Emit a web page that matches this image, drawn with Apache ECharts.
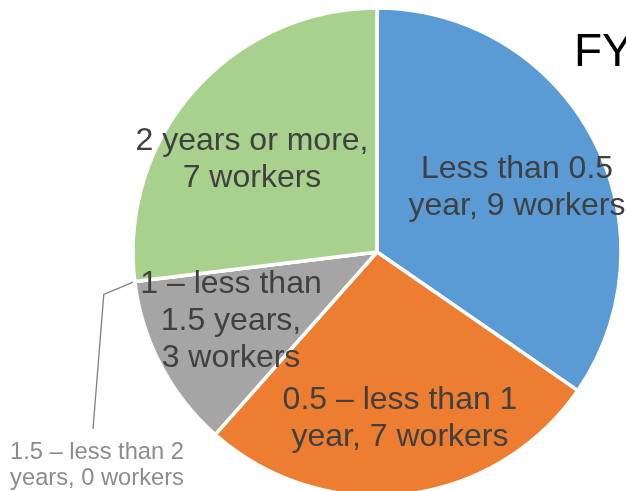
<!DOCTYPE html>
<html>
<head>
<meta charset="utf-8">
<script src="https://cdn.jsdelivr.net/npm/echarts@6/dist/echarts.min.js"></script>
<style>
  html, body { margin: 0; padding: 0; background: #fff; }
  #chart { width: 626px; height: 491px; }
</style>
</head>
<body>
<div id="chart"></div>
<script>
// Workers by length of service
const categories = [
  'Less than 0.5\nyear',
  '0.5 – less than 1\nyear',
  '1 – less than\n1.5 years',
  '1.5 – less than 2\nyears',
  '2 years or more'
];
const workers = [9, 7, 3, 0, 7];
const sliceColors = ['#5B9BD5', '#ED7D31', '#A5A5A5', '#FFC000', '#A9D18E'];
const titleText = 'FY';

// Per-slice label placement (text centre, px) and whether the count goes on its own line
const labelSpots = [[517, 188], [400, 419], [231, 321], [97, 465], [252, 160]];
const countOnNewLine = [false, false, true, false, true];

const chart = echarts.init(document.getElementById('chart'), null, { renderer: 'canvas' });

const data = categories.map((name, i) => {
  const item = { name, value: workers[i], itemStyle: { color: sliceColors[i] } };
  if (workers[i] === 0) {
    item.label = {
      position: 'outside',
      fontSize: 23.7,
      lineHeight: 26,
      color: '#8C8C8C'
    };
    item.labelLine = { show: true, lineStyle: { color: '#7F7F7F', width: 1.3 } };
  }
  return item;
});

chart.setOption({
  animation: false,
  title: {
    text: titleText,
    left: 569,
    top: 25,
    textStyle: { fontFamily: 'Liberation Sans, Arial, sans-serif', fontSize: 46, fontWeight: 'normal', color: '#000' }
  },
  series: [{
    type: 'pie',
    center: [377, 252],
    radius: 244,
    startAngle: 90,
    clockwise: true,
    avoidLabelOverlap: false,
    itemStyle: { borderColor: '#fff', borderWidth: 3.5 },
    label: {
      show: true,
      position: 'inside',
      fontFamily: 'Liberation Sans, Arial, sans-serif',
      fontSize: 32,
      lineHeight: 37,
      color: '#404040',
      align: 'center',
      formatter: (p) => p.name + ',' + (countOnNewLine[p.dataIndex] ? '\n' : ' ') + p.value + ' workers'
    },
    labelLine: { show: false },
    labelLayout: (p) => {
      const [x, y] = labelSpots[p.dataIndex];
      const out = { x, y, align: 'center', verticalAlign: 'middle' };
      if (workers[p.dataIndex] === 0 && p.labelLinePoints) {
        const start = p.labelLinePoints[0];
        const top = y - p.labelRect.height / 2;
        out.labelLinePoints = [
          start,
          [start[0] - 31, start[1] + 13],
          [x - 4, top - 10]
        ];
      }
      return out;
    },
    emphasis: { disabled: true },
    data
  }]
});
</script>
</body>
</html>
